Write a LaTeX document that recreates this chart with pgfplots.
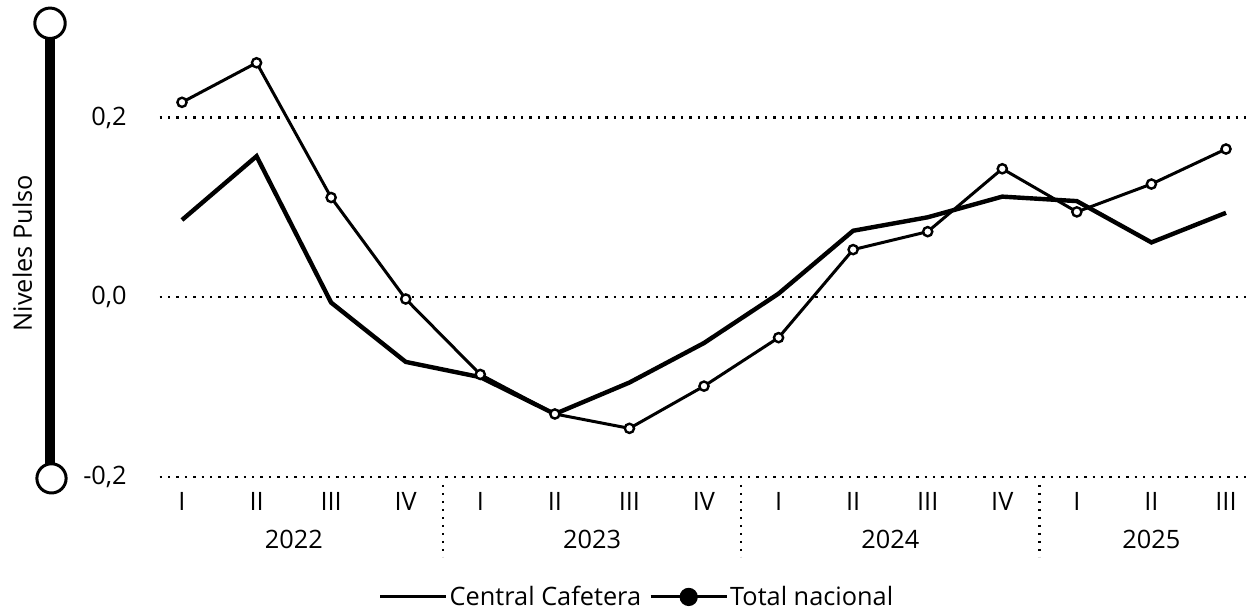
\documentclass[border=0pt]{standalone}
\usepackage{fontspec}
\setmainfont{Open Sans}
\usepackage{pgfplots}
\pgfplotsset{compat=1.18}
\begin{document}
\begin{tikzpicture}[font=\fontsize{12.7}{15}\selectfont]
\begin{axis}[
  scale only axis,
  width=544bp, height=224.4bp,
  xmin=-0.3, xmax=14.3,
  ymin=-0.2, ymax=0.3,
  axis lines=none,
  clip=false,
  xtick=\empty, ytick=\empty,
  legend columns=2,
  legend style={draw=none, fill=none, at={(0.4384,0)}, anchor=center, yshift=-60bp,
    nodes={inner xsep=1bp},
    /tikz/every even column/.append style={column sep=3bp},
    font=\fontsize{12.7}{15}\selectfont},
]
% grid lines
\foreach \yy in {-0.2,0,0.2}{
  \edef\temp{\noexpand\draw[line width=1.1bp, dash pattern=on 1.2bp off 3bp] (axis cs:-0.3,\yy) -- (axis cs:14.3,\yy);}
  \temp
}
% tick labels
\foreach \i/\lab in {0/I,1/II,2/III,3/IV,4/I,5/II,6/III,7/IV,8/I,9/II,10/III,11/IV,12/I,13/II,14/III}{
  \edef\temp{\noexpand\node[anchor=center] at ([yshift=-12.5bp]axis cs:\i,-0.2) {\lab};}
  \temp
}
\foreach \yy/\lab in {-0.2/{-0,2},0/{0,0},0.2/{0,2}}{
  \edef\temp{\noexpand\node[anchor=east] at ([xshift=-13bp]axis cs:-0.3,\yy) {\lab};}
  \temp
}
\node at ([yshift=-31.5bp]axis cs:1.5,-0.2) {2022};
\node at ([yshift=-31.5bp]axis cs:5.5,-0.2) {2023};
\node at ([yshift=-31.5bp]axis cs:9.5,-0.2) {2024};
\node at ([yshift=-31.5bp]axis cs:13,-0.2) {2025};
\foreach \xx in {3.5,7.5,11.5}{
  \edef\temp{\noexpand\draw[line width=1.1bp, dash pattern=on 1bp off 3bp] ([yshift=-4bp]axis cs:\xx,-0.2) -- ([yshift=-40bp]axis cs:\xx,-0.2);}
  \temp
}
% slider decoration and label
\draw[line width=5bp] (axis cs:-1.77,0.305) -- (axis cs:-1.77,-0.2017);
\draw[line width=1.5bp, fill=white] (axis cs:-1.77,0.305) circle (7.6bp);
\draw[line width=1.5bp, fill=white] (axis cs:-1.75,-0.2017) circle (7.3bp);
\node[rotate=90] at (axis cs:-2.14,0.049) {Niveles Pulso};
\coordinate (BL) at (axis cs:-2.4407,-0.3532);
\coordinate (TR) at (axis cs:14.349,0.3309);

\addplot[black, line width=2.2bp, mark=none,
  legend image code/.code={\draw[black,line width=1.5bp] (0bp,0bp) -- (33bp,0bp);}]
  coordinates {(0,0.086) (1,0.157) (2,-0.006) (3,-0.072) (4,-0.089) (5,-0.130) (6,-0.095) (7,-0.051) (8,0.004) (9,0.074) (10,0.089) (11,0.112) (12,0.107) (13,0.061) (14,0.094)};
\addlegendentry{Central Cafetera}
\addplot[black, line width=1.5bp, mark=*, mark size=2.3bp,
  mark options={fill=white, line width=1.2bp},
  legend image code/.code={\draw[black,line width=1.5bp] (0bp,0bp) -- (38bp,0bp); \fill[black] (19bp,0bp) circle (3.8bp);}]
  coordinates {(0,0.217) (1,0.261) (2,0.111) (3,-0.002) (4,-0.086) (5,-0.130) (6,-0.146) (7,-0.099) (8,-0.045) (9,0.053) (10,0.073) (11,0.143) (12,0.095) (13,0.126) (14,0.165)};
\addlegendentry{Total nacional}
\end{axis}
\pgfresetboundingbox
\path (BL) rectangle (TR);
\end{tikzpicture}
\end{document}
